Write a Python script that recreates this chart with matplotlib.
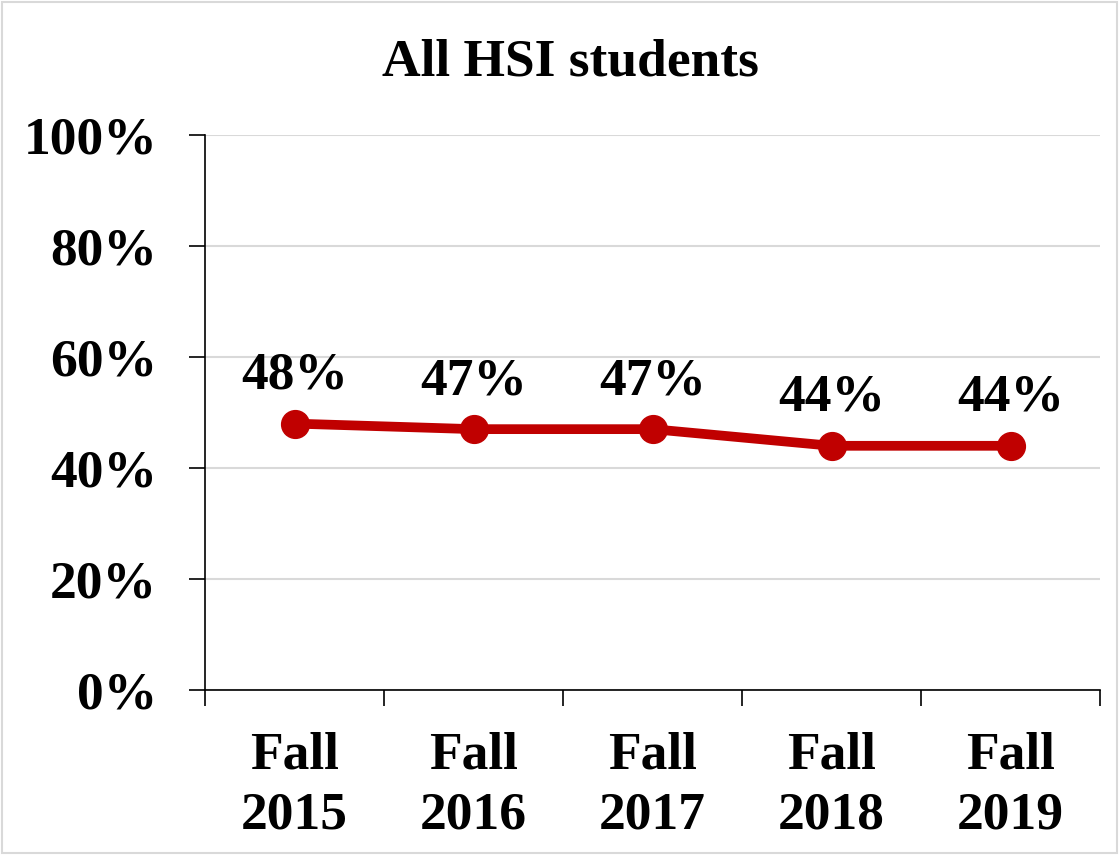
import matplotlib
matplotlib.use("Agg")
import matplotlib.pyplot as plt
from matplotlib.patches import Rectangle

categories = ["Fall\n2015", "Fall\n2016", "Fall\n2017", "Fall\n2018", "Fall\n2019"]
values = [48, 47, 47, 44, 44]
labels = ["48%", "47%", "47%", "44%", "44%"]
yticks = [0, 20, 40, 60, 80, 100]
ytick_labels = ["0%", "20%", "40%", "60%", "80%", "100%"]

plt.rcParams['font.family'] = ['Liberation Serif', 'DejaVu Serif']
plt.rcParams['font.weight'] = 'bold'

FS = 38.5

fig = plt.figure(figsize=(11.19, 8.55), dpi=100)
ax = fig.add_axes([205/1119, 1-690/855, (1100-205)/1119, (690-135)/855])

x = list(range(len(categories)))
ax.plot(x, values, color='#C00000', lw=7, marker='o', markersize=20, zorder=3)
for xi, v, t in zip(x, values, labels):
    ax.annotate(t, (xi, v), xytext=(0, 34.5), textcoords='offset points',
                ha='center', va='center', fontsize=FS, fontweight='bold')

ax.set_xlim(-0.5, len(categories) - 0.5)
ax.set_ylim(0, 100)
ax.set_yticks(yticks)
ax.set_yticklabels(ytick_labels, fontsize=FS, fontweight='bold')
ax.set_xticks(x)
ax.set_xticklabels(categories, fontsize=FS, fontweight='bold', linespacing=1.32)
ax.set_xticks([i - 0.5 for i in range(len(categories) + 1)], minor=True)
ax.tick_params(axis='x', which='major', length=0, pad=30)
ax.tick_params(axis='x', which='minor', length=11.5, width=1.2, color='black', direction='out')
ax.tick_params(axis='y', length=11.5, width=1.2, pad=23, direction='out')
ax.grid(axis='y', color='#d9d9d9', lw=1.5, zorder=0)
ax.set_axisbelow(True)
for s in ['top', 'right']:
    ax.spines[s].set_visible(False)
for s in ['left', 'bottom']:
    ax.spines[s].set_linewidth(1.2)

fig.text(570/1119, 1-62/855, "All HSI students", ha='center', va='center',
         fontsize=FS, fontweight='bold')

fig.patches.append(Rectangle((0.002, 0.002), 0.996, 0.996, transform=fig.transFigure,
                             fill=False, edgecolor='#d9d9d9', lw=1.5))

fig.savefig("out.png", dpi=100)
